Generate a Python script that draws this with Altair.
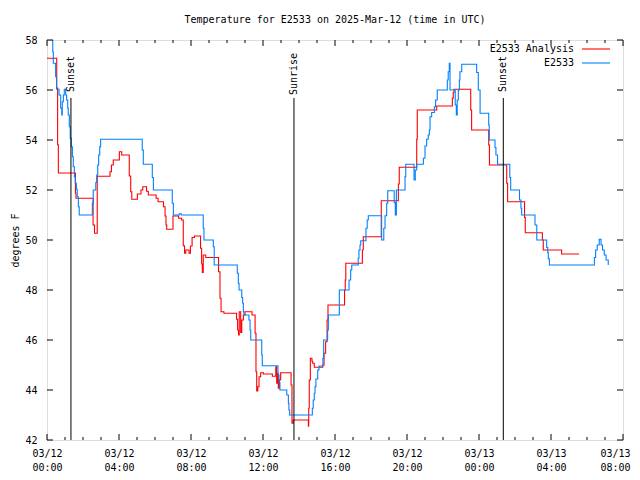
import altair as alt
import pandas as pd

FONT = "DejaVu Sans Mono"

series_names = ["E2533 Analysis", "E2533"]
series_colors = ["#ff0000", "#0080ff"]

# hours since 2025-03-12 00:00 UTC, temperature (F); step changes
red_hours = [0.0, 0.54, 0.59, 0.63, 1.58, 1.61, 2.56, 2.64, 2.79, 3.5, 3.58, 3.68, 4.02, 4.15,
             4.57, 4.65, 4.71, 5.02, 5.22, 5.32, 5.53, 5.63, 6.06, 6.17, 6.47, 6.56, 6.61, 6.65,
             7.0, 7.31, 7.48, 7.57, 7.64, 7.71, 7.89, 7.97, 8.06, 8.19, 8.53, 8.59, 8.63, 8.68,
             8.82, 9.53, 9.61, 9.67, 9.83, 10.53, 10.59, 10.64, 10.68, 10.76, 10.82, 10.91, 11.0,
             11.39, 11.56, 11.61, 11.65, 11.71, 11.78, 11.87, 12.02, 12.52, 12.71, 12.76, 12.79,
             12.85, 12.91, 12.98, 13.56, 13.61, 13.68, 14.52, 14.54, 14.57, 14.63, 14.72, 14.76,
             14.85, 15.32, 15.39, 15.48, 15.56, 15.61, 16.53, 16.57, 16.6, 17.52, 17.57, 18.57,
             19.52, 19.57, 20.54, 20.57, 21.65, 22.52, 22.57, 22.61, 23.54, 23.59, 24.54, 24.58,
             25.54, 25.59, 26.53, 26.57, 27.52, 27.57, 28.59, 29.56]
red_temps = [57.27, 56.08, 53.81, 52.68, 51.87, 51.67, 50.6, 50.27, 52.55, 52.73, 53.0, 53.2, 53.53, 53.4,
             52.56, 51.93, 51.63, 51.84, 52.0, 52.13, 51.95, 51.8, 51.67, 51.53, 51.33, 50.96, 50.6, 50.43,
             50.96, 50.87, 50.8, 49.77, 49.47, 49.6, 49.47, 49.76, 50.1, 50.16, 49.67, 49.04, 48.7, 49.4,
             49.3, 48.73, 47.67, 47.13, 47.07, 46.83, 46.4, 46.2, 47.13, 46.3, 46.8, 47.0, 47.13,
             47.0, 46.27, 44.73, 43.96, 44.13, 44.53, 44.69, 44.64, 44.55, 44.93, 44.27, 44.67,
             44.07, 44.4, 44.69, 44.2, 42.67, 42.8, 42.55, 43.27, 44.4, 45.27, 45.15, 45.07,
             44.91, 45.0, 45.47, 45.93, 46.8, 47.4, 48.0, 48.4, 49.07, 49.6, 50.13, 51.57,
             52.24, 52.91, 54.03, 55.2, 55.36, 55.67, 55.9, 56.03, 55.2, 54.4, 53.8, 53.0,
             52.27, 51.53, 50.9, 50.29, 50.0, 49.6, 49.44, 49.44]

blue_hours = [0.26, 0.32, 0.35, 0.48, 0.53, 0.67, 0.76, 0.82, 0.85, 0.91, 0.96, 1.04, 1.09, 1.15, 1.18,
              1.24, 1.29, 1.35, 1.41, 1.46, 1.52, 1.57, 1.63, 1.68, 1.74, 1.79, 2.52, 2.57, 2.71, 2.76,
              2.82, 2.87, 2.93, 2.98, 5.29, 5.35, 5.85, 5.91, 6.96, 7.02, 7.35, 7.46, 8.68, 8.72, 9.24,
              9.29, 10.57, 10.63, 10.67, 10.82, 10.87, 10.91, 10.94, 11.22, 11.28, 11.32, 11.93, 11.96,
              12.83, 12.89, 12.94, 13.32, 13.41, 13.44, 13.48, 14.74, 14.79, 14.85, 14.89, 14.94, 15.04,
              15.11, 15.33, 15.37, 15.59, 15.63, 16.24, 16.78, 16.87, 16.93, 17.29, 17.33, 17.39, 17.43,
              17.72, 17.79, 17.85, 18.59, 18.71, 18.78, 18.87, 18.93, 19.29, 19.35, 19.41, 19.89, 19.93,
              20.39, 20.46, 20.54, 20.91, 21.0, 21.09, 21.18, 21.24, 21.28, 21.37, 21.52, 21.59, 21.68,
              22.24, 22.29, 22.35, 22.39, 22.68, 22.74, 22.79, 22.85, 22.91, 22.94, 23.04, 23.87, 23.96,
              24.06, 24.54, 24.57, 24.89, 24.94, 25.03, 25.71, 25.76, 26.25, 26.33, 26.37, 27.11, 27.21,
              27.76, 27.82, 27.85, 27.91, 30.41, 30.48, 30.57, 30.68, 30.78, 30.86, 30.96, 31.06, 31.18]
blue_temps = [58.0, 57.53, 57.07, 56.53, 56.03, 55.8, 55.27, 55.0, 55.53, 55.8, 56.03, 55.8, 55.6, 55.27, 55.0,
              54.53, 54.07, 53.73, 53.33, 52.93, 52.53, 52.27, 52.03, 51.73, 51.33, 51.0, 51.47, 52.0, 52.3, 52.6,
              53.0, 53.4, 53.73, 54.03, 53.6, 53.03, 52.5, 52.0, 51.47, 51.0, 51.05, 51.0, 50.47, 50.0, 49.73,
              49.0, 48.67, 48.27, 48.0, 47.7, 47.47, 47.13, 47.0, 46.8, 46.4, 46.0, 45.4, 44.97,
              44.6, 44.3, 44.0, 43.8, 43.47, 43.2, 43.0, 43.27, 43.6, 43.87, 44.13, 44.44, 44.8,
              44.96, 45.27, 46.0, 46.4, 47.0, 48.0, 48.4, 48.8, 49.0, 49.27, 49.6, 49.8, 49.97,
              50.47, 50.8, 50.97, 50.0, 50.47, 50.97, 51.47, 51.97, 51.5, 51.0, 52.0, 52.53, 53.03,
              52.4, 52.8, 53.03, 53.27, 53.76, 54.03, 54.2, 54.4, 54.93, 55.1, 55.33, 55.6, 56.0,
              56.4, 56.73, 57.07, 56.0, 55.4, 55.0, 55.6, 56.0, 56.4, 56.73, 57.03, 56.7, 56.0,
              55.07, 54.6, 54.0, 53.7, 53.4, 53.03, 52.5, 52.0, 51.6, 51.27, 51.0, 50.6, 50.0,
              49.7, 49.5, 49.25, 49.0, 49.3, 49.6, 49.8, 50.03, 49.8, 49.6, 49.4, 49.2, 49.0]

event_names = ["Sunset", "Sunrise", "Sunset"]
event_hours = [1.33, 13.72, 25.35]

x_ticks = list(range(0, 33, 4))
x_minor = [h for h in range(0, 33) if h % 4]
y_ticks = list(range(42, 59, 2))

W, H = 576, 400

df = pd.concat([
    pd.DataFrame({"h": red_hours, "t": red_temps, "series": series_names[0]}),
    pd.DataFrame({"h": blue_hours, "t": blue_temps, "series": series_names[1]}),
])
events = pd.DataFrame({"h": event_hours, "name": event_names})

label_expr = ("['03/' + (12 + floor(datum.value / 24)), "
              "(datum.value % 24 < 10 ? '0' : '') + (datum.value % 24) + ':00']")

x_enc = alt.X("h:Q", scale=alt.Scale(domain=[0, 32], nice=False, zero=False),
              axis=alt.Axis(values=x_ticks, labelExpr=label_expr, ticks=False, domain=False,
                            grid=False, labelFont=FONT, labelFontSize=10, labelColor="black",
                            labelPadding=8, labelLineHeight=14, labelFlush=False,
                            labelOffset={"condition": {"test": "datum.value == 32", "value": -8}, "value": 0},
                            labelOverlap=False, title=None))
y_enc = alt.Y("t:Q", scale=alt.Scale(domain=[42, 58], nice=False, zero=False),
              axis=alt.Axis(values=y_ticks, ticks=False, domain=False, grid=False,
                            labelFont=FONT, labelFontSize=10, labelColor="black", labelPadding=10,
                            title="degrees F", titleFont=FONT, titleFontSize=10,
                            titleFontWeight="normal", titleColor="black", titleAngle=270,
                            titleX=-32, titleY=200, titleAlign="center", titleBaseline="middle"))

lines = alt.Chart(df).mark_line(interpolate="step-after", strokeWidth=1.1, clip=True).encode(
    x=x_enc, y=y_enc,
    color=alt.Color("series:N", scale=alt.Scale(domain=series_names, range=series_colors), legend=None),
)

ev_rules = alt.Chart(events).mark_rule(color="black", strokeWidth=1).encode(
    x=x_enc, y=alt.value(H), y2=alt.value(58))
ev_text = alt.Chart(events).mark_text(angle=270, font=FONT, fontSize=10, align="center",
                                      baseline="middle", color="black").encode(
    x=x_enc, y=alt.value(34), text="name:N")

layers = [lines, ev_rules, ev_text]

maj = pd.DataFrame({"h": x_ticks})
mnr = pd.DataFrame({"h": x_minor})
for d, ln in ((maj, 6), (mnr, 3)):
    layers.append(alt.Chart(d).mark_rule(color="black").encode(x=x_enc, y=alt.value(H), y2=alt.value(H - ln)))
    layers.append(alt.Chart(d).mark_rule(color="black").encode(x=x_enc, y=alt.value(0), y2=alt.value(ln)))

yt = pd.DataFrame({"t": y_ticks})
layers.append(alt.Chart(yt).mark_rule(color="black").encode(y=y_enc, x=alt.value(0), x2=alt.value(6)))
layers.append(alt.Chart(yt).mark_rule(color="black").encode(y=y_enc, x=alt.value(W), x2=alt.value(W - 6)))

for i, (name, col) in enumerate(zip(series_names, series_colors)):
    ly = 9 + 14 * i
    layers.append(alt.Chart(pd.DataFrame({"name": [name]})).mark_text(
        align="right", baseline="middle", font=FONT, fontSize=10, color="black").encode(
        text="name:N", x=alt.value(527), y=alt.value(ly)))
    layers.append(alt.Chart(pd.DataFrame({"name": [name]})).mark_rule(color=col, strokeWidth=1.1).encode(
        x=alt.value(535), x2=alt.value(563), y=alt.value(ly)))

chart = alt.layer(*layers).properties(
    width=W, height=H,
    title=alt.TitleParams("Temperature for E2533 on 2025-Mar-12 (time in UTC)", font=FONT, fontSize=10,
                          fontWeight="normal", anchor="middle", frame="group", offset=10, color="black"),
    padding={"left": 39, "top": 32, "right": 9, "bottom": 36},
    autosize=alt.AutoSizeParams(type="none"),
).configure_view(stroke="black", strokeWidth=1).configure(background="white")

chart.save("out.html", embed_options={"renderer": "svg", "actions": False})
